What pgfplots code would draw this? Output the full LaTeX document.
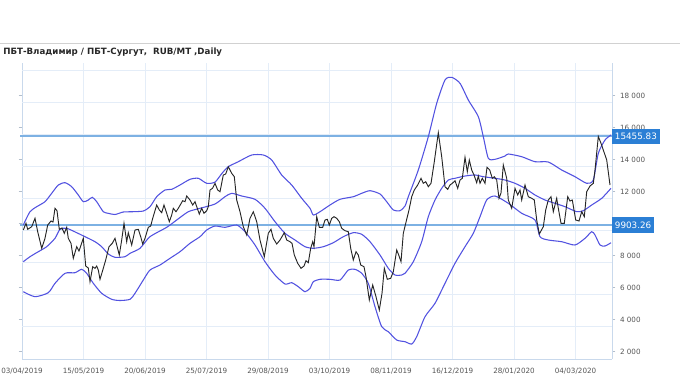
\documentclass[border=0pt]{standalone}
\usepackage{fontspec}
\setmainfont{DejaVu Sans}
\usepackage{pgfplots}
\pgfplotsset{compat=1.18}
\definecolor{band}{HTML}{5252E0}
\definecolor{hline}{HTML}{7DB1E3}
\definecolor{lblbox}{HTML}{2B7FD5}
\definecolor{gridc}{HTML}{E4EDF8}
\definecolor{axc}{HTML}{C9D9EC}
\definecolor{tickc}{HTML}{555555}
\begin{document}
\begin{tikzpicture}[x=0.75pt,y=0.75pt]
\path[use as bounding box] (0,0) rectangle (680,380);
\draw[color=black!18, line width=0.75pt] (0,337) -- (680,337);
\node[anchor=base west, inner sep=0pt, font=\bfseries\fontsize{6.5}{8}\selectfont, text=black!85] at (3,326) {ПБТ-Владимир / ПБТ-Сургут,\ \ RUB/MT ,Daily};
\begin{axis}[
  at={(16.5pt,15.75pt)}, anchor=south west,
  scale only axis, width=442.5pt, height=222pt,
  xmin=22, xmax=612, ymin=1544, ymax=20044,
  clip=false,
  scaled y ticks=false,
  axis x line*=bottom, axis y line*=box,
  axis line style={draw=axc, line width=0.75pt},
  xtick={22,83.5,145,206.5,268,329.5,391,452.5,514,575.5},
  xticklabels={03/04/2019,15/05/2019,20/06/2019,25/07/2019,29/08/2019,03/10/2019,08/11/2019,16/12/2019,28/01/2020,04/03/2020},
  xmajorgrids=true,
  major grid style={draw=gridc, line width=0.75pt},
  xtick style={draw=none},
  ytick={2000,4000,6000,8000,10000,12000,14000,16000,18000},
  yticklabels={2 000,4 000,6 000,8 000,,12 000,14 000,16 000,18 000},
  ytick pos=both, yticklabel pos=right,
  tick align=outside, major tick length=2.5pt,
  ytick style={draw=axc!70!gray, line width=0.6pt},
  extra y ticks={3600,5600,7600,9600,11600,13600,15600,17600,19600},
  extra y tick labels={},
  extra y tick style={grid=major, major tick length=0pt, tick style={draw=none}},
  tick label style={font=\fontsize{5.4}{6}\selectfont, text=tickc},
  xticklabel style={yshift=-1pt},
]
% reference lines
\addplot[hline, line width=1.5pt] coordinates {(20,15455.83) (612,15455.83)};
\addplot[hline, line width=1.5pt] coordinates {(20,9903.26) (612,9903.26)};
% upper band
\addplot[band, line width=0.8pt, smooth, tension=0.4] table {
23.3 9919
30 10750
36.7 11063
45 11375
51.7 11900
58.3 12419
65 12563
71.7 12313
78.3 11794
83.3 11375
88.3 11481
92.3 11650
96.7 11375
103.3 10750
108.3 10650
115 10575
123.3 10731
133.3 10750
143.3 10794
150 11063
156.7 11688
165 12106
171.7 12150
180 12419
190 12775
198.3 12838
206.7 12525
215 12600
222 13150
228.3 13563
238.3 13875
251.7 14294
263.3 14294
271.7 13981
281.7 13044
291.7 12419
301.7 11588
310 10963
313.3 10544
320 10750
330 11169
340 11525
353.3 11688
361.7 11900
370 12063
380 11856
386.7 11375
393.3 10856
400 10813
405 11106
408.3 11688
418.3 13356
428.3 15438
436.7 17525
445 18981
451.7 19150
460 18775
468.3 17731
478.3 16688
483.3 15438
488.3 14088
495 14025
505 14231
508.3 14356
521.7 14188
535 13875
548.3 13856
561.7 13356
575 12938
586.7 12525
593.3 12731
598.3 14400
605 15231
611 15544
};
% middle band
\addplot[band, line width=0.8pt, smooth, tension=0.4] table {
23.3 7625
30 7938
38.3 8250
46.7 8563
55 9088
60 9650
66.7 9713
76.7 9438
85 9188
95 8875
101.7 8563
108.3 8106
115 7900
125 7938
130 8150
140 8463
150 9188
166.7 9775
176.7 10231
188.3 10750
200 10963
215 11231
225 11688
231.7 11900
241.7 11731
255 11525
265 10963
275 10125
285 9400
295 8981
305 8563
313.3 8463
323.3 8563
333.3 8813
343.3 9188
353.3 9438
361.7 9338
370 8875
380 8044
388.3 7213
395 6794
401.7 6794
405 6900
413.3 7625
421.7 8875
428.3 10438
435 11481
441.7 12213
448.3 12731
455 12838
465 12981
475 13044
483.3 12938
495 12838
505 12731
515 12525
525 12213
535 11794
545 11481
555 11275
565 11063
576.7 10750
583.3 10813
591.7 11169
601.7 11588
611 12213
};
% lower band
\addplot[band, line width=0.8pt, smooth, tension=0.4] table {
23.3 5750
35 5438
48.3 5688
55 6275
65 6900
75 6938
81.7 7150
86.7 6900
93.3 6275
101.7 5650
111.7 5275
120 5200
130 5275
135 5650
143.3 6481
150 7106
160 7419
170 7838
180 8250
190 8775
200 9188
206.7 9606
215 9856
225 9775
236.7 9919
245 9500
255 8669
265 7625
275 6794
285 6231
291.7 6313
298.3 6063
305 5750
310 5963
313.3 6375
320 6525
330 6525
340 6481
348.3 7106
355 7150
361.7 6900
368.3 6275
375 4813
381.7 3563
388.3 3250
396.7 2731
405 2625
411.7 2481
416.7 2938
425 4188
435 5025
445 6275
455 7525
465 8563
473.3 9400
480 10438
486.7 11481
495 11731
508.3 11275
521.7 10650
535 10231
540 9188
548.3 8981
561.7 8875
575 8669
585 9088
591.7 9500
595 9294
600 8669
605 8606
611 8813
};
% price
\addplot[black!85, line width=0.7pt] table {
23.3 9606
26 10025
27.7 9650
31.7 9813
35 10338
37.7 9500
41.7 8463
45 9088
47.7 9919
51 10169
53 10106
55 10963
57 10813
59.3 9650
62 9731
64.3 9400
66.7 9775
68.3 9088
71 8775
73.3 7838
76.7 8563
79 8294
83.3 9088
85.7 7356
88.3 7231
90 6375
92.7 7313
95 7213
96.7 7356
98.3 7106
100 6525
102.3 7000
105.7 7731
109 8563
112.3 8775
115 9088
117 8606
119.3 8044
121.7 8981
124 10025
126.7 8875
128.3 9438
131.7 8669
135 9606
138.3 9650
140.7 9188
142.7 8731
145 9088
148.3 9775
150.7 9856
152.7 10338
156.7 11169
159.3 10856
161.7 10688
164 11169
166.7 10650
169.3 10125
171.7 10544
173.3 10963
176 10750
178.3 10963
182.7 11438
185 11375
186.7 11731
190 11481
192.7 11169
195 11375
197.3 10963
199.3 10606
201.7 10963
204 10650
206.7 10813
208.3 11063
210 12106
212.5 12213
215 12525
217.7 12106
220 12000
223.3 13044
225.7 13106
228.3 13563
231.7 13150
234.3 12938
236.7 11481
240 10750
243.3 9813
246.7 9294
250 10338
253.3 10750
256.7 10125
260 8981
264.3 7938
268.3 9400
271 9650
273.3 9088
276.7 8731
280 8981
284.3 9438
286.7 8981
290 8875
292 8775
294.3 8044
297.7 7525
301 7213
304 7356
306 7688
308.3 7563
310.7 8463
312.7 8875
314 8563
316.7 10438
319.3 9775
322.7 9775
325 10231
327.3 10275
329.3 9919
331.7 10338
334 10438
336.7 10338
339.3 10125
341.7 9713
345 9563
348.3 9500
350.7 8463
353.3 7731
356 8250
358.3 8044
360.7 7419
364 7313
366 6688
369.3 5231
372.7 6169
376 5438
379.3 4606
382 5650
384.3 7213
387.3 6525
390.7 6588
393.3 7000
396.7 8356
398.7 8044
401 7625
403.3 9400
406.7 10275
409 10856
411.7 11688
414.3 12106
417.7 12419
421 12838
423.3 12525
425.7 12625
428.3 12313
431 12525
434.3 13875
438.3 15688
441.7 14188
445 12313
447.7 12150
450 12419
452.3 12525
455 12688
457.7 12213
460 12731
462.3 12838
465 14150
467.3 13250
469.3 13981
471.7 13356
474 13044
476.7 12563
478.3 12981
480 12525
482.3 12838
485 12525
487 13525
489.7 13356
492.3 12838
494.3 12938
496.7 12731
499 11588
501 11919
503.3 13669
506.7 12838
508.3 11481
511.7 10963
515 12213
517.7 11794
520 12106
521.7 11481
525 12419
528.3 11688
531.7 11588
534.3 11481
536.7 10231
539.3 9356
543.3 9813
545.7 10856
548.3 11481
551 11688
553.3 10750
556.7 11588
558.3 10963
561 10025
564.3 10025
567.7 11688
570 11419
572.3 11481
575.7 10231
579 10169
581.7 10750
584.3 10438
586.7 12000
590 12356
593.3 12525
595 13356
598.3 15450
601 15025
603.3 14606
606.7 13981
610 12419
};
\node[fill=lblbox, text=white, anchor=west, inner xsep=2pt, minimum height=9.75pt, font=\fontsize{6.6}{7}\selectfont] at (axis cs:612,15455.83) {15455.83};
\node[fill=lblbox, text=white, anchor=west, inner xsep=2pt, minimum height=9.75pt, font=\fontsize{6.6}{7}\selectfont] at (axis cs:612,9903.26) {9903.26};
\end{axis}
\end{tikzpicture}
\end{document}
